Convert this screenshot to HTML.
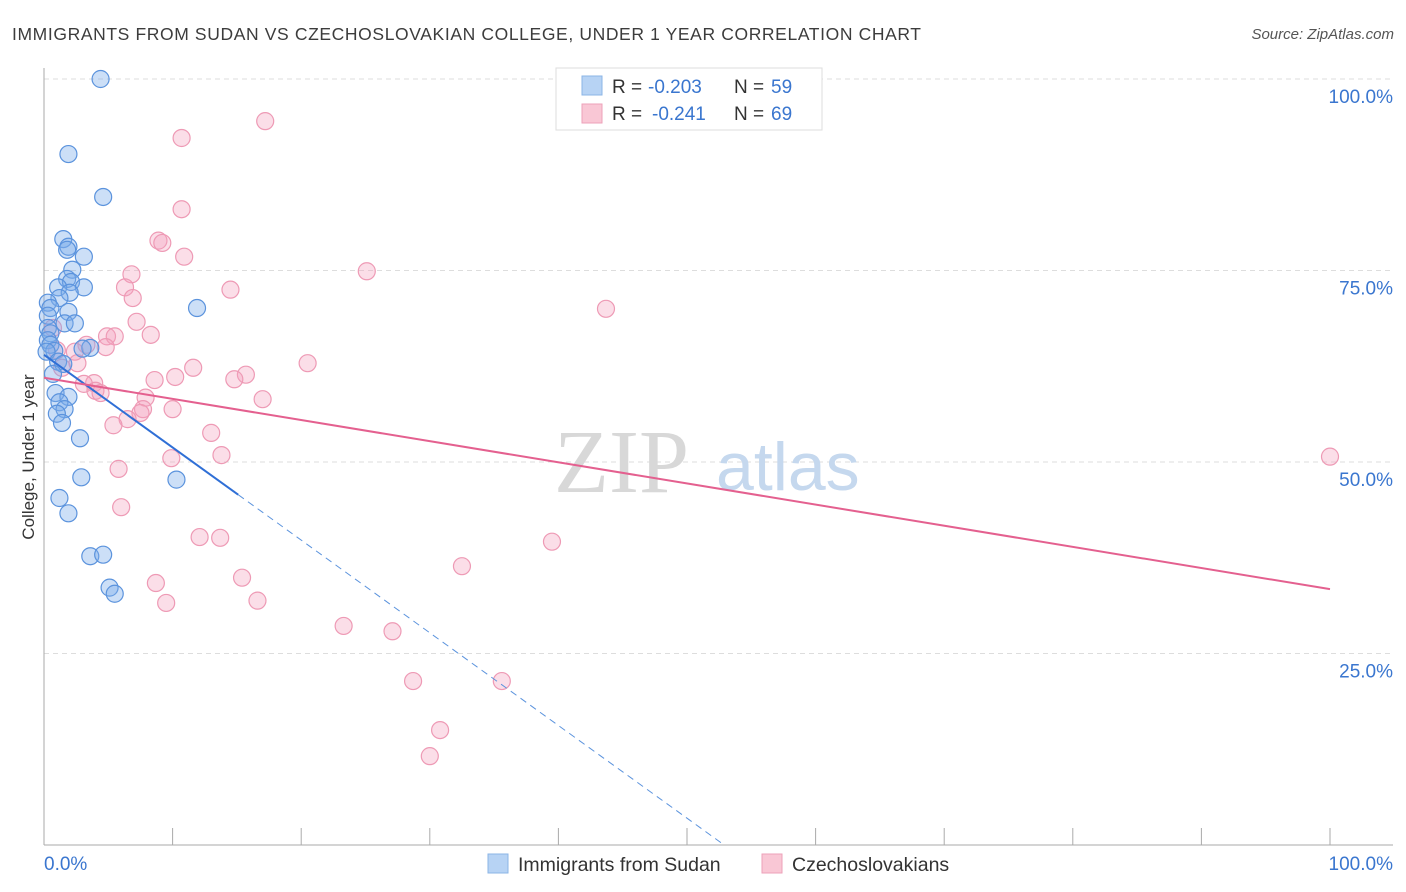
<!DOCTYPE html>
<html><head><meta charset="utf-8"><style>
body{margin:0;background:#fff;font-family:"Liberation Sans",sans-serif;}
svg{display:block}
</style></head><body>
<svg id="chart" width="1406" height="892">
<text x="12" y="40" font-size="17.5" fill="#3c3c3c" textLength="909" lengthAdjust="spacing">IMMIGRANTS FROM SUDAN VS CZECHOSLOVAKIAN COLLEGE, UNDER 1 YEAR CORRELATION CHART</text>
<text x="1394" y="39" font-size="15" fill="#555" font-style="italic" text-anchor="end">Source: ZipAtlas.com</text>
<text x="0" y="0" transform="translate(34,457) rotate(-90)" font-size="17" fill="#333" text-anchor="middle">College, Under 1 year</text>
<g id="grid"></g>
<text x="554" y="492" font-size="90" fill="#d8d8d8" font-family="Liberation Serif,serif">ZIP</text>
<text x="716" y="490" font-size="68" fill="#c5d8ee">atlas</text>
<g id="pts"></g>
<g id="lines"></g>
<g>
<rect x="556" y="68" width="266" height="62" fill="#fff" stroke="#ddd"/>
<rect x="582" y="76" width="20" height="19" fill="#b7d3f4" stroke="#8bb4e6"/>
<rect x="582" y="104" width="20" height="19" fill="#f9c7d5" stroke="#eda2b9"/>
<text x="612" y="93" font-size="19" fill="#333">R =</text>
<text x="648" y="93" font-size="19" fill="#3a76cf">-0.203</text>
<text x="734" y="93" font-size="19" fill="#333">N =</text>
<text x="771" y="93" font-size="19" fill="#3a76cf">59</text>
<text x="612" y="120" font-size="19" fill="#333">R =</text>
<text x="652" y="120" font-size="19" fill="#3a76cf">-0.241</text>
<text x="734" y="120" font-size="19" fill="#333">N =</text>
<text x="771" y="120" font-size="19" fill="#3a76cf">69</text>
</g>
<g>
<rect x="488" y="854" width="20" height="19" fill="#b7d3f4" stroke="#8bb4e6"/>
<text x="518" y="871" font-size="19.5" fill="#333">Immigrants from Sudan</text>
<rect x="762" y="854" width="20" height="19" fill="#f9c7d5" stroke="#eda2b9"/>
<text x="792" y="871" font-size="19.5" fill="#333">Czechoslovakians</text>
</g>
</svg>
<script>
const xTicks=[0,10,20,30,40,50,60,70,80,90,100];
const yTicks=[25,50,75,100];
const sudanX=[4.4,1.9,4.6,1.5,1.9,1.8,3.1,2.2,1.8,2.1,3.1,1.1,2.0,1.2,0.3,0.5,1.9,0.3,1.6,2.4,0.3,0.5,0.3,0.5,3.6,3.0,0.8,0.2,1.1,1.5,0.7,0.9,1.9,1.2,1.6,1.0,1.4,2.8,2.9,10.3,1.2,1.9,3.6,4.6,5.1,5.5,11.9];
const sudanY=[100,90.2,84.6,79.1,78.1,77.7,76.8,75.1,73.9,73.5,72.8,72.8,72.1,71.4,70.8,70.1,69.6,69.1,68.1,68.1,67.5,66.8,65.9,65.3,64.9,64.8,64.5,64.4,63.1,62.8,61.5,59.0,58.5,57.8,56.9,56.3,55.1,53.1,48.0,47.7,45.3,43.3,37.7,37.9,33.6,32.8,70.1];
const czX=[17.2,10.7,10.7,8.9,9.2,10.9,25.1,6.8,6.3,14.5,6.9,43.7,7.2,8.3,0.7,4.9,5.5,3.3,4.8,1.0,2.4,20.5,11.6,2.6,1.4,10.2,15.7,14.8,8.6,3.9,3.1,4.0,4.4,17.0,7.9,10.0,7.7,7.5,6.5,5.4,13.0,13.8,9.9,100,5.8,6.0,12.1,13.7,39.5,32.5,15.4,8.7,16.6,9.5,23.3,27.1,28.7,35.6,30.8,30.0];
const czY=[94.5,92.3,83.0,78.9,78.6,76.8,74.9,74.5,72.8,72.5,71.4,70.0,68.3,66.6,67.5,66.4,66.4,65.3,65.0,64.6,64.4,62.9,62.3,62.9,62.3,61.1,61.4,60.8,60.7,60.3,60.2,59.3,59.0,58.2,58.4,56.9,56.9,56.4,55.6,54.8,53.8,50.9,50.5,50.7,49.1,44.1,40.2,40.1,39.6,36.4,34.9,34.2,31.9,31.6,28.6,27.9,21.4,21.4,15.0,11.6];
const sudanTrend=[64.0,-1.21];
const czTrend=[61.0,-0.276];
const X=v=>44+v*12.86, Y=v=>845-v*7.66;
const NS='http://www.w3.org/2000/svg';
function mk(t,a,p){const e=document.createElementNS(NS,t);for(const k in a)e.setAttribute(k,a[k]);p.appendChild(e);return e;}
const g=document.getElementById('grid');
yTicks.forEach(t=>{
 const l=mk('line',{x1:44,x2:1393,y1:Y(t),y2:Y(t),stroke:'#ddd','stroke-dasharray':'5,4'},g);
 
 
 const tx=mk('text',{x:1393,y:Y(t)+24,'font-size':19,fill:'#3a76cf','text-anchor':'end'},g);
 tx.textContent=t.toFixed(1)+'%';
 
 
});
mk('line',{x1:44,x2:44,y1:68,y2:845,stroke:'#aaa'},g);
mk('line',{x1:44,x2:1393,y1:845,y2:845,stroke:'#aaa'},g);
xTicks.forEach(t=>{mk('line',{x1:X(t),x2:X(t),y1:828,y2:845,stroke:'#aaa'},g);});
const x0=mk('text',{x:44,y:870,'font-size':19,fill:'#3a76cf'},g);x0.textContent=xTicks[0].toFixed(1)+'%';


const x1=mk('text',{x:1393,y:870,'font-size':19,fill:'#3a76cf','text-anchor':'end'},g);x1.textContent=xTicks[xTicks.length-1].toFixed(1)+'%';


const p=document.getElementById('pts');
czX.forEach((v,i)=>{const c=mk('circle',{cx:X(v),cy:Y(czY[i]),r:8.5,fill:'rgba(244,160,188,0.35)',stroke:'#ee9ab5','stroke-width':1.2},p);
 
 });
sudanX.forEach((v,i)=>{const c=mk('circle',{cx:X(v),cy:Y(sudanY[i]),r:8.5,fill:'rgba(120,170,235,0.38)',stroke:'#5b93dd','stroke-width':1.2},p);
 
 });
const L=document.getElementById('lines');
const sEnd=Math.max(...sudanX)+3.2, sZero=-sudanTrend[0]/sudanTrend[1];
let l1=mk('line',{x1:X(0),y1:Y(sudanTrend[0]),x2:X(sEnd),y2:Y(sudanTrend[0]+sudanTrend[1]*sEnd),stroke:'#2f6fd6','stroke-width':2},L);


let l2=mk('line',{x1:X(sEnd),y1:Y(sudanTrend[0]+sudanTrend[1]*sEnd),x2:X(sZero),y2:Y(0),stroke:'#5b93dd','stroke-width':1,'stroke-dasharray':'7,5'},L);


let l3=mk('line',{x1:X(0),y1:Y(czTrend[0]),x2:X(100),y2:Y(czTrend[0]+czTrend[1]*100),stroke:'#e4608f','stroke-width':2},L);


</script>
</body></html>
